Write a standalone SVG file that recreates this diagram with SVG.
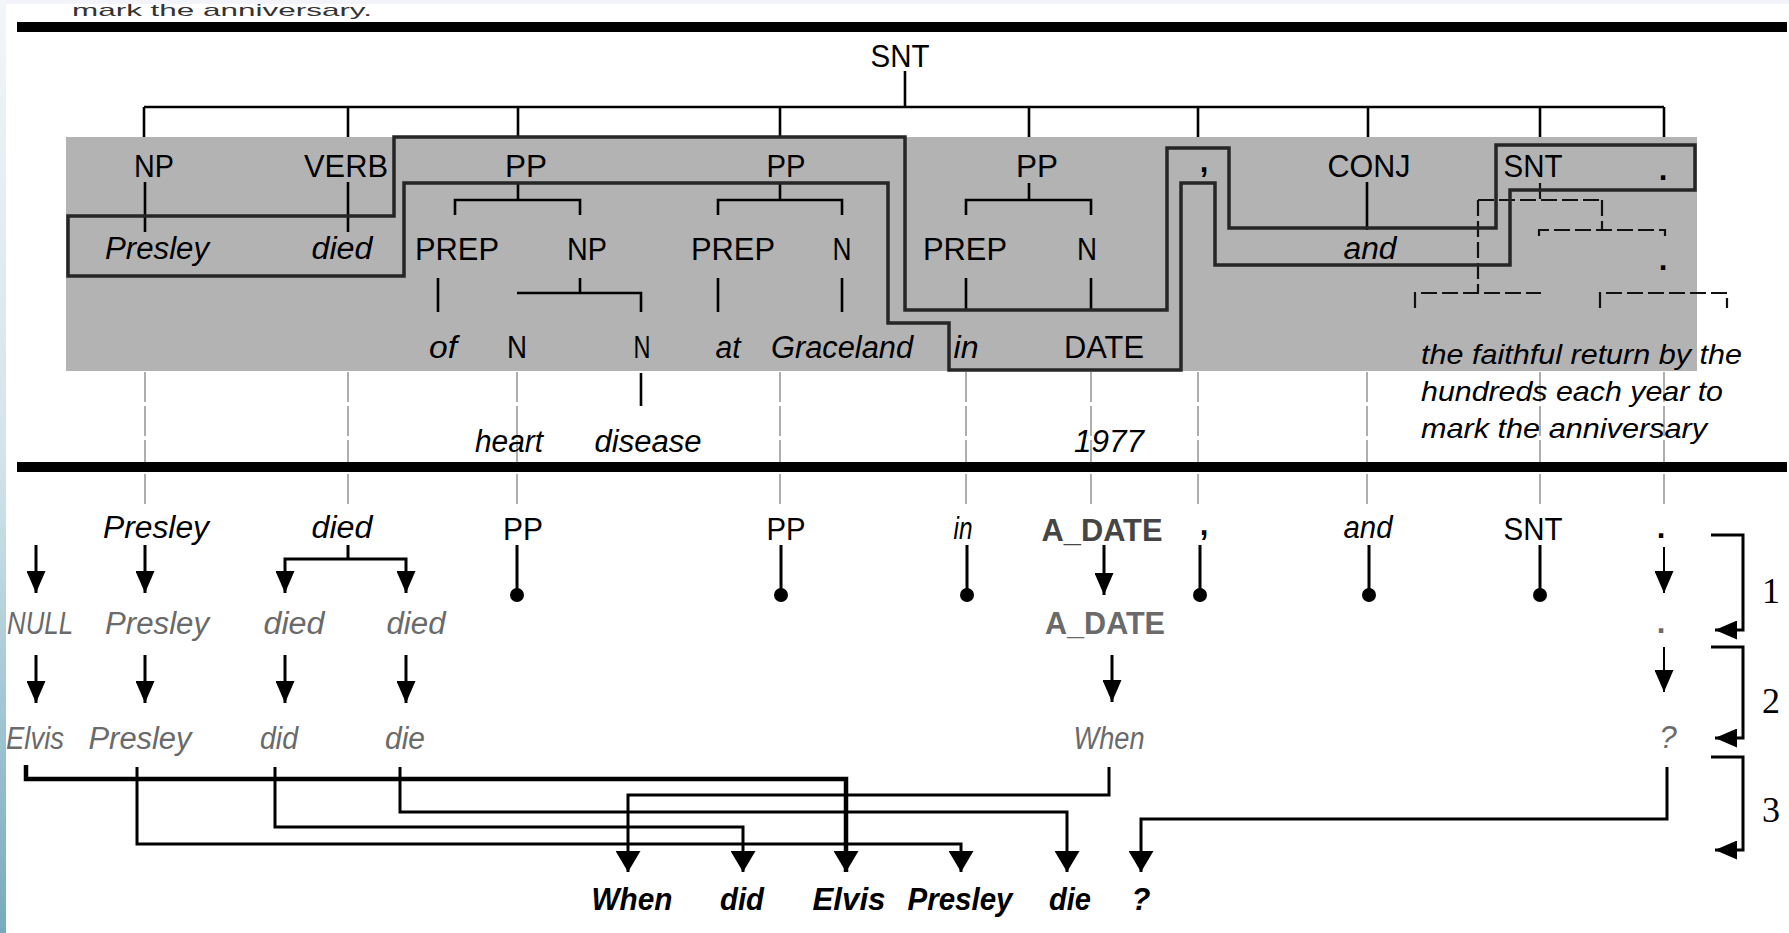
<svg xmlns="http://www.w3.org/2000/svg" width="1789" height="933" viewBox="0 0 1789 933">
<defs>
<style>
.t{font-family:"Liberation Sans",Arial,sans-serif;font-size:31px;text-anchor:middle;fill:#000}
.i{font-style:italic}
.b{font-weight:bold}
.g{fill:#6a6a6a}
.dg{fill:#454545}
.sm{font-size:28px;text-anchor:start}
.hd{font-size:17px;text-anchor:start;fill:#333}
.num{font-family:"Liberation Serif","Times New Roman",serif;font-size:36px;fill:#000}
.ln{stroke:#000;stroke-width:2.6;fill:none}
.cn{stroke:#000;stroke-width:3;fill:none}
.thin{stroke:#000;stroke-width:2;fill:none}
.gd{stroke:#9a9a9a;stroke-width:1.6;fill:none;stroke-dasharray:30 4}
.bd{stroke:#111;stroke-width:2.2;fill:none;stroke-dasharray:16 5}
.box{stroke:#262626;stroke-width:3.5;fill:none;stroke-linejoin:miter}
</style>
<linearGradient id="edge" x1="0" y1="0" x2="0" y2="1">
<stop offset="0" stop-color="#f2f6f9"/>
<stop offset="0.5" stop-color="#d2e3ea"/>
<stop offset="1" stop-color="#76abbd"/>
</linearGradient>
<marker id="ah" viewBox="0 0 22 19" refX="22" refY="9.5" markerUnits="userSpaceOnUse" markerWidth="22" markerHeight="19" orient="auto"><path d="M0,0 L22,9.5 L0,19 z" fill="#000"/></marker>
<marker id="ahL" viewBox="0 0 21 25" refX="21" refY="12.5" markerUnits="userSpaceOnUse" markerWidth="21" markerHeight="25" orient="auto"><path d="M0,0 L21,12.5 L0,25 z" fill="#000"/></marker>
</defs>
<rect x="0" y="0" width="1789" height="933" fill="#fff"/>
<rect x="0" y="0" width="1789" height="4" fill="#f3f4f9"/>
<g id="header-text"><text class="t hd" x="72" y="16" textLength="300" lengthAdjust="spacingAndGlyphs">mark the anniversary.</text></g>
<rect x="17" y="22" width="1770" height="10" fill="#000"/>
<rect x="66" y="137" width="1631" height="234" fill="#b3b3b3"/>

<g id="connectors">
<path class="ln" d="M905,71V107M144,107H1664M144,107V137M348,107V137M518,107V137M780,107V137M1029,107V137M1198,107V137M1368,107V137M1540,107V137M1664,107V137"/>
<path class="ln" d="M145,182V232M348,182V232M1367,182V230"/>
<path class="ln" d="M518,183V200M455,215V200H580V215M780,183V200M718,215V200H842V215M1029,183V200M966,215V200H1091V215"/>
<path class="ln" d="M438,278V312M580,278V293M517,293H641V312M718,278V312M842,278V312M966,278V310M1091,278V310M641,373V406"/>
<path class="bd" d="M1540,183V200M1478,200H1602M1478,200V293M1602,200V230M1539,236V230H1665V236M1415,308V293H1541M1600,308V293H1727V308"/>
<polygon class="box" points="68,216 394,216 394,137 905,137 905,310 1167,310 1167,148 1229,148 1229,228 1496,228 1496,145 1695,145 1695,190 1510,190 1510,265 1215,265 1215,183 1181,183 1181,370 949,370 949,323 888,323 888,183 404,183 404,276 68,276"/>
<path class="gd" d="M145,372V506M348,372V506M517,372V506M780,372V506M966,372V506M1091,372V506M1198,372V506M1367,372V506M1540,372V506M1664,372V506"/>
<path class="cn" marker-end="url(#ah)" d="M36,545V593"/>
<path class="cn" marker-end="url(#ah)" d="M145,545V593"/>
<path class="cn" d="M348,545V559"/>
<path class="cn" marker-end="url(#ah)" d="M348,559H285V593"/>
<path class="cn" marker-end="url(#ah)" d="M348,559H406V593"/>
<path class="cn" d="M517,545V595M781,545V595M967,545V595M1200,545V595M1369,545V595M1540,545V595"/>
<circle cx="517" cy="595" r="7"/><circle cx="781" cy="595" r="7"/><circle cx="967" cy="595" r="7"/><circle cx="1200" cy="595" r="7"/><circle cx="1369" cy="595" r="7"/><circle cx="1540" cy="595" r="7"/>
<path class="cn" marker-end="url(#ah)" d="M1104,545V595"/>
<path class="thin" marker-end="url(#ah)" d="M1664,547V593"/>
<path class="cn" marker-end="url(#ah)" d="M36,655V703"/>
<path class="cn" marker-end="url(#ah)" d="M145,655V703"/>
<path class="cn" marker-end="url(#ah)" d="M285,655V703"/>
<path class="cn" marker-end="url(#ah)" d="M406,655V703"/>
<path class="cn" marker-end="url(#ah)" d="M1112,655V702"/>
<path class="thin" marker-end="url(#ah)" d="M1664,647V692"/>
<path class="cn" style="stroke-width:4.5" marker-end="url(#ahL)" d="M26,765V779H846V872"/>
<path class="cn" marker-end="url(#ahL)" d="M137,767V844H961V872"/>
<path class="cn" marker-end="url(#ahL)" d="M275,767V827H743V872"/>
<path class="cn" marker-end="url(#ahL)" d="M400,767V812H1067V872"/>
<path class="cn" marker-end="url(#ahL)" d="M1109,767V795H628V872"/>
<path class="cn" marker-end="url(#ahL)" d="M1667,767V819H1141V872"/>
<path class="cn" marker-end="url(#ah)" d="M1711,535H1743V630H1715"/>
<path class="cn" marker-end="url(#ah)" d="M1711,647H1743V738H1715"/>
<path class="cn" marker-end="url(#ah)" d="M1711,757H1743V850H1715"/>
</g>
<rect x="17" y="462" width="1770" height="10" fill="#000"/>

<g id="tree-root"><text class="t" x="900" y="67" textLength="59" lengthAdjust="spacingAndGlyphs">SNT</text></g>
<g id="tree-level1">
<text class="t" x="154" y="177" textLength="40" lengthAdjust="spacingAndGlyphs">NP</text>
<text class="t" x="346" y="177" textLength="84" lengthAdjust="spacingAndGlyphs">VERB</text>
<text class="t" x="526" y="177" textLength="42" lengthAdjust="spacingAndGlyphs">PP</text>
<text class="t" x="786" y="177" textLength="39" lengthAdjust="spacingAndGlyphs">PP</text>
<text class="t" x="1037" y="177" textLength="42" lengthAdjust="spacingAndGlyphs">PP</text>
<text class="t b" x="1204" y="172">,</text>
<text class="t" x="1369" y="177" textLength="83" lengthAdjust="spacingAndGlyphs">CONJ</text>
<text class="t" x="1533" y="177" textLength="59" lengthAdjust="spacingAndGlyphs">SNT</text>
<text class="t b" x="1663" y="180">.</text>
</g>
<g id="tree-level2">
<text class="t i" x="157" y="259" textLength="104" lengthAdjust="spacingAndGlyphs">Presley</text>
<text class="t i" x="342" y="259" textLength="61" lengthAdjust="spacingAndGlyphs">died</text>
<text class="t" x="457" y="260" textLength="84" lengthAdjust="spacingAndGlyphs">PREP</text>
<text class="t" x="587" y="260" textLength="40" lengthAdjust="spacingAndGlyphs">NP</text>
<text class="t" x="733" y="260" textLength="84" lengthAdjust="spacingAndGlyphs">PREP</text>
<text class="t" x="842" y="260" textLength="19" lengthAdjust="spacingAndGlyphs">N</text>
<text class="t" x="965" y="260" textLength="84" lengthAdjust="spacingAndGlyphs">PREP</text>
<text class="t" x="1087" y="260" textLength="20" lengthAdjust="spacingAndGlyphs">N</text>
<text class="t i" x="1370" y="259" textLength="53" lengthAdjust="spacingAndGlyphs">and</text>
<text class="t b" x="1663" y="270">.</text>
</g>
<g id="tree-level3">
<text class="t i" x="443" y="358" textLength="28" lengthAdjust="spacingAndGlyphs">of</text>
<text class="t" x="517" y="358" textLength="20" lengthAdjust="spacingAndGlyphs">N</text>
<text class="t" x="642" y="358" textLength="17" lengthAdjust="spacingAndGlyphs">N</text>
<text class="t i" x="728" y="358" textLength="25" lengthAdjust="spacingAndGlyphs">at</text>
<text class="t i" x="842" y="358" textLength="142" lengthAdjust="spacingAndGlyphs">Graceland</text>
<text class="t i" x="966" y="358" textLength="25" lengthAdjust="spacingAndGlyphs">in</text>
<text class="t" x="1104" y="358" textLength="80" lengthAdjust="spacingAndGlyphs">DATE</text>
</g>
<g id="tree-level4">
<text class="t i" x="509" y="452" textLength="68" lengthAdjust="spacingAndGlyphs">heart</text>
<text class="t i" x="648" y="452" textLength="107" lengthAdjust="spacingAndGlyphs">disease</text>
<text class="t i" x="1109" y="452" textLength="70" lengthAdjust="spacingAndGlyphs">1977</text>
</g>
<g id="tree-phrase">
<text class="t i sm" x="1421" y="364" textLength="321" lengthAdjust="spacingAndGlyphs">the faithful return by the</text>
<text class="t i sm" x="1421" y="401" textLength="302" lengthAdjust="spacingAndGlyphs">hundreds each year to</text>
<text class="t i sm" x="1421" y="438" textLength="286" lengthAdjust="spacingAndGlyphs">mark the anniversary</text>
</g>

<g id="row-a">
<text class="t i" x="156" y="538" textLength="106" lengthAdjust="spacingAndGlyphs">Presley</text>
<text class="t i" x="342" y="538" textLength="61" lengthAdjust="spacingAndGlyphs">died</text>
<text class="t" x="523" y="540" textLength="40" lengthAdjust="spacingAndGlyphs">PP</text>
<text class="t" x="786" y="540" textLength="39" lengthAdjust="spacingAndGlyphs">PP</text>
<text class="t i" x="963" y="539" textLength="19" lengthAdjust="spacingAndGlyphs">in</text>
<text class="t b dg" x="1102" y="541" textLength="121" lengthAdjust="spacingAndGlyphs">A_DATE</text>
<text class="t b" x="1204" y="535">,</text>
<text class="t i" x="1368" y="538" textLength="49" lengthAdjust="spacingAndGlyphs">and</text>
<text class="t" x="1533" y="540" textLength="59" lengthAdjust="spacingAndGlyphs">SNT</text>
<text class="t b" x="1661" y="538">.</text>
</g>
<g id="row-b">
<text class="t i g" x="40" y="634" textLength="66" lengthAdjust="spacingAndGlyphs">NULL</text>
<text class="t i g" x="157" y="634" textLength="104" lengthAdjust="spacingAndGlyphs">Presley</text>
<text class="t i g" x="294" y="634" textLength="61" lengthAdjust="spacingAndGlyphs">died</text>
<text class="t i g" x="416" y="634" textLength="59" lengthAdjust="spacingAndGlyphs">died</text>
<text class="t b g" x="1105" y="634" textLength="120" lengthAdjust="spacingAndGlyphs">A_DATE</text>
<text class="t b g" x="1661" y="633">.</text>
</g>
<g id="row-c">
<text class="t i g" x="35" y="749" textLength="58" lengthAdjust="spacingAndGlyphs">Elvis</text>
<text class="t i g" x="140" y="749" textLength="103" lengthAdjust="spacingAndGlyphs">Presley</text>
<text class="t i g" x="279" y="749" textLength="38" lengthAdjust="spacingAndGlyphs">did</text>
<text class="t i g" x="405" y="749" textLength="40" lengthAdjust="spacingAndGlyphs">die</text>
<text class="t i g" x="1109" y="749" textLength="71" lengthAdjust="spacingAndGlyphs">When</text>
<text class="t i g" x="1668" y="748">?</text>
</g>
<g id="row-output">
<text class="t i b" x="632" y="910" textLength="81" lengthAdjust="spacingAndGlyphs">When</text>
<text class="t i b" x="742" y="910" textLength="44" lengthAdjust="spacingAndGlyphs">did</text>
<text class="t i b" x="849" y="910" textLength="73" lengthAdjust="spacingAndGlyphs">Elvis</text>
<text class="t i b" x="960" y="910" textLength="105" lengthAdjust="spacingAndGlyphs">Presley</text>
<text class="t i b" x="1070" y="910" textLength="42" lengthAdjust="spacingAndGlyphs">die</text>
<text class="t i b" x="1141" y="910">?</text>
</g>
<g id="step-labels">
<text class="num" x="1762" y="603">1</text>
<text class="num" x="1762" y="713">2</text>
<text class="num" x="1762" y="822">3</text>
</g>
<rect x="0" y="0" width="6" height="933" fill="url(#edge)"/>
</svg>
